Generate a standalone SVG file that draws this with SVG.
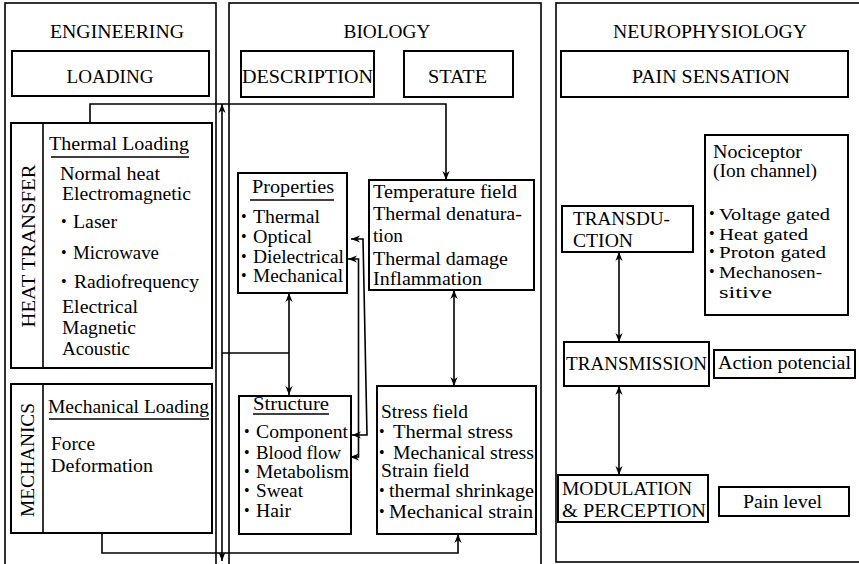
<svg xmlns="http://www.w3.org/2000/svg" width="859" height="564" viewBox="0 0 859 564">
<defs>
<style>
.t{font-family:'Liberation Serif','DejaVu Serif',serif;font-size:18px;fill:#000}
.h{font-size:19px}
.s{font-size:17px}
.m{text-anchor:middle}
.b{font-size:16px}
.box{fill:none;stroke:#000;stroke-width:2}
.pan{fill:none;stroke:#000;stroke-width:1.6}
.ul{stroke:#000;stroke-width:1.6}
.c{fill:none;stroke:#000;stroke-width:1.6}
.a1{marker-end:url(#ah)}
.a2{marker-start:url(#ah);marker-end:url(#ah)}
</style>
<marker id="ah" viewBox="0 0 10 8" refX="10" refY="4" markerWidth="9" markerHeight="7.2" markerUnits="userSpaceOnUse" orient="auto-start-reverse">
<path d="M0,0 L10,4 L0,8 L3,4 z" fill="#000"/>
</marker>
</defs>
<rect width="859" height="564" fill="#fff"/>

<g id="engineering">
<rect class="pan" x="5" y="3" width="211" height="580"/>
<text class="t h m" x="117" y="38" textLength="134" lengthAdjust="spacingAndGlyphs">ENGINEERING</text>
</g>
<g id="loading">
<rect class="box" x="12" y="51" width="197" height="45"/>
<text class="t h m" x="110" y="83" textLength="87" lengthAdjust="spacingAndGlyphs">LOADING</text>
</g>
<g id="heat-transfer">
<rect class="box" x="11" y="123" width="201" height="245"/>
<line class="ul" x1="43" y1="123" x2="43" y2="368"/>
<text class="t m" transform="translate(35,246) rotate(-90)" textLength="163" lengthAdjust="spacingAndGlyphs">HEAT TRANSFER</text>
<text class="t" x="49" y="150" textLength="140" lengthAdjust="spacingAndGlyphs">Thermal Loading</text>
<line class="ul" x1="51" y1="157" x2="189" y2="157"/>
<text class="t" x="60" y="180" textLength="100" lengthAdjust="spacingAndGlyphs">Normal heat</text>
<text class="t" x="62" y="200" textLength="129" lengthAdjust="spacingAndGlyphs">Electromagnetic</text>
<text class="t b" x="61" y="227">•</text>
<text class="t" x="73" y="228" textLength="44" lengthAdjust="spacingAndGlyphs">Laser</text>
<text class="t b" x="61" y="258">•</text>
<text class="t" x="73" y="259" textLength="86" lengthAdjust="spacingAndGlyphs">Microwave</text>
<text class="t b" x="61" y="287">•</text>
<text class="t" x="74" y="288" textLength="125" lengthAdjust="spacingAndGlyphs">Radiofrequency</text>
<text class="t" x="62" y="313" textLength="76" lengthAdjust="spacingAndGlyphs">Electrical</text>
<text class="t" x="62" y="334" textLength="74" lengthAdjust="spacingAndGlyphs">Magnetic</text>
<text class="t" x="62" y="355" textLength="68" lengthAdjust="spacingAndGlyphs">Acoustic</text>
</g>
<g id="mechanics">
<rect class="box" x="11" y="384" width="201" height="149"/>
<line class="ul" x1="43" y1="384" x2="43" y2="533"/>
<text class="t m" transform="translate(34,460) rotate(-90)" textLength="114" lengthAdjust="spacingAndGlyphs">MECHANICS</text>
<text class="t" x="48" y="413" textLength="161" lengthAdjust="spacingAndGlyphs">Mechanical Loading</text>
<line class="ul" x1="49" y1="419" x2="209" y2="419"/>
<text class="t" x="51" y="450" textLength="44" lengthAdjust="spacingAndGlyphs">Force</text>
<text class="t" x="51" y="472" textLength="102" lengthAdjust="spacingAndGlyphs">Deformation</text>
</g>

<g id="biology">
<rect class="pan" x="229" y="3" width="312" height="580"/>
<text class="t h m" x="387" y="38" textLength="87" lengthAdjust="spacingAndGlyphs">BIOLOGY</text>
</g>
<g id="description">
<rect class="box" x="241" y="51" width="133" height="46"/>
<text class="t h m" x="307.5" y="83" textLength="131" lengthAdjust="spacingAndGlyphs">DESCRIPTION</text>
</g>
<g id="state">
<rect class="box" x="404" y="51" width="109" height="46"/>
<text class="t h m" x="457.5" y="83" textLength="59" lengthAdjust="spacingAndGlyphs">STATE</text>
</g>
<g id="properties">
<rect class="box" x="238" y="173" width="109" height="120"/>
<text class="t" x="252" y="193" textLength="82" lengthAdjust="spacingAndGlyphs">Properties</text>
<line class="ul" x1="250" y1="200" x2="334" y2="200"/>
<text class="t b" x="241" y="222">•</text>
<text class="t" x="253" y="223" textLength="67" lengthAdjust="spacingAndGlyphs">Thermal</text>
<text class="t b" x="241" y="242">•</text>
<text class="t" x="253" y="243" textLength="59" lengthAdjust="spacingAndGlyphs">Optical</text>
<text class="t b" x="241" y="262">•</text>
<text class="t" x="253" y="263" textLength="91" lengthAdjust="spacingAndGlyphs">Dielectrical</text>
<text class="t b" x="241" y="281">•</text>
<text class="t" x="253" y="282" textLength="90" lengthAdjust="spacingAndGlyphs">Mechanical</text>
</g>
<g id="temperature">
<rect class="box" x="369" y="180" width="165" height="110"/>
<text class="t" x="373" y="198" textLength="144" lengthAdjust="spacingAndGlyphs">Temperature field</text>
<text class="t" x="373" y="220" textLength="149" lengthAdjust="spacingAndGlyphs">Thermal denatura-</text>
<text class="t" x="373" y="242" textLength="30" lengthAdjust="spacingAndGlyphs">tion</text>
<text class="t" x="373" y="265" textLength="135" lengthAdjust="spacingAndGlyphs">Thermal damage</text>
<text class="t" x="373" y="285" textLength="109" lengthAdjust="spacingAndGlyphs">Inflammation</text>
</g>
<g id="structure">
<rect class="box" x="239" y="396" width="112" height="138"/>
<text class="t" x="253" y="410" textLength="76" lengthAdjust="spacingAndGlyphs">Structure</text>
<line class="ul" x1="253" y1="414" x2="329" y2="414"/>
<text class="t b" x="244" y="437">•</text>
<text class="t" x="256" y="438" textLength="92" lengthAdjust="spacingAndGlyphs">Component</text>
<text class="t b" x="244" y="458">•</text>
<text class="t" x="256" y="459" textLength="85" lengthAdjust="spacingAndGlyphs">Blood flow</text>
<text class="t b" x="244" y="477">•</text>
<text class="t" x="256" y="478" textLength="93" lengthAdjust="spacingAndGlyphs">Metabolism</text>
<text class="t b" x="244" y="496">•</text>
<text class="t" x="256" y="497" textLength="47" lengthAdjust="spacingAndGlyphs">Sweat</text>
<text class="t b" x="244" y="516">•</text>
<text class="t" x="256" y="517" textLength="35" lengthAdjust="spacingAndGlyphs">Hair</text>
</g>
<g id="stress">
<rect class="box" x="377" y="386" width="159" height="148"/>
<text class="t" x="381" y="418" textLength="87" lengthAdjust="spacingAndGlyphs">Stress field</text>
<text class="t b" x="379" y="437">•</text>
<text class="t" x="393" y="438" textLength="120" lengthAdjust="spacingAndGlyphs">Thermal stress</text>
<text class="t b" x="379" y="458">•</text>
<text class="t" x="393" y="459" textLength="141" lengthAdjust="spacingAndGlyphs">Mechanical stress</text>
<text class="t" x="381" y="477" textLength="88" lengthAdjust="spacingAndGlyphs">Strain field</text>
<text class="t b" x="379" y="496">•</text>
<text class="t" x="389" y="497" textLength="145" lengthAdjust="spacingAndGlyphs">thermal shrinkage</text>
<text class="t b" x="379" y="517">•</text>
<text class="t" x="389" y="518" textLength="144" lengthAdjust="spacingAndGlyphs">Mechanical strain</text>
</g>

<g id="neurophysiology">
<rect class="pan" x="556" y="3" width="320" height="559"/>
<text class="t h m" x="710" y="38" textLength="194" lengthAdjust="spacingAndGlyphs">NEUROPHYSIOLOGY</text>
</g>
<g id="pain-sensation">
<rect class="box" x="561" y="51" width="287" height="46"/>
<text class="t h m" x="711" y="83" textLength="158" lengthAdjust="spacingAndGlyphs">PAIN SENSATION</text>
</g>
<g id="nociceptor">
<rect class="box" x="705" y="135" width="143" height="180"/>
<text class="t" x="713" y="158" textLength="89" lengthAdjust="spacingAndGlyphs">Nociceptor</text>
<text class="t" x="713" y="177" textLength="104" lengthAdjust="spacingAndGlyphs">(Ion channel)</text>
<text class="t b" x="709" y="219">•</text>
<text class="t s" x="719" y="220" textLength="111" lengthAdjust="spacingAndGlyphs">Voltage gated</text>
<text class="t b" x="709" y="239">•</text>
<text class="t s" x="719" y="240" textLength="89" lengthAdjust="spacingAndGlyphs">Heat gated</text>
<text class="t b" x="709" y="257">•</text>
<text class="t s" x="719" y="258" textLength="107" lengthAdjust="spacingAndGlyphs">Proton gated</text>
<text class="t b" x="709" y="277">•</text>
<text class="t s" x="719" y="278" textLength="103" lengthAdjust="spacingAndGlyphs">Mechanosen-</text>
<text class="t s" x="719" y="298" textLength="53" lengthAdjust="spacingAndGlyphs">sitive</text>
</g>
<g id="transduction">
<rect class="box" x="562" y="206" width="131" height="46"/>
<text class="t" x="573" y="225" textLength="97" lengthAdjust="spacingAndGlyphs">TRANSDU-</text>
<text class="t" x="573" y="247" textLength="60" lengthAdjust="spacingAndGlyphs">CTION</text>
</g>
<g id="transmission">
<rect class="box" x="564" y="342" width="145" height="44"/>
<text class="t h" x="566" y="370" textLength="141" lengthAdjust="spacingAndGlyphs">TRANSMISSION</text>
</g>
<g id="action-potencial">
<rect class="box" x="714" y="350" width="141" height="28"/>
<text class="t" x="718" y="369" textLength="133" lengthAdjust="spacingAndGlyphs">Action potencial</text>
</g>
<g id="modulation">
<rect class="box" x="558" y="475" width="150" height="47"/>
<text class="t h" x="562" y="495" textLength="130" lengthAdjust="spacingAndGlyphs">MODULATION</text>
<text class="t h" x="562" y="517" textLength="144" lengthAdjust="spacingAndGlyphs">&amp; PERCEPTION</text>
</g>
<g id="pain-level">
<rect class="box" x="719" y="487" width="130" height="29"/>
<text class="t m" x="782.5" y="508" textLength="79" lengthAdjust="spacingAndGlyphs">Pain level</text>
</g>

<g id="connectors">
<path class="c a1" d="M90,123 V104 H446 V180"/>
<path class="c a2" d="M222,104 V561"/>
<path class="c" d="M222,353 H289"/>
<path class="c a2" d="M289,293 V395"/>
<path class="c a1" d="M102,533 V553 H458 V534"/>
<path class="c a2" d="M454,290 V386"/>
<path class="c a2" d="M351,239 H363 L367,435 H352"/>
<path class="c a2" d="M348,259 H358.5 V457 H350"/>
<path class="c a2" d="M619,252 V342"/>
<path class="c a2" d="M619,386 V475"/>
</g>
</svg>
